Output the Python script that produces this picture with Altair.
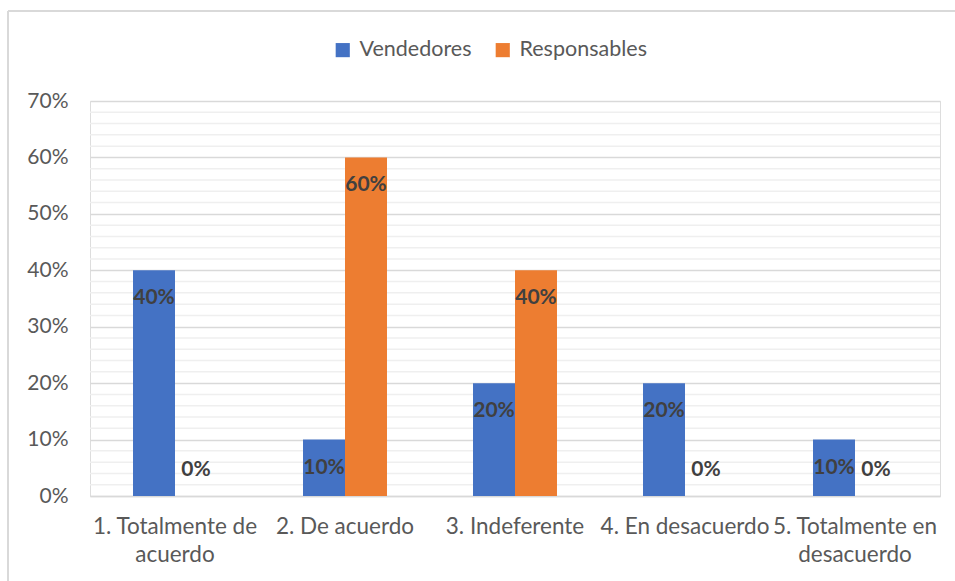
import altair as alt
import pandas as pd

categories = ["1. Totalmente de acuerdo", "2. De acuerdo", "3. Indeferente",
              "4. En desacuerdo", "5. Totalmente en desacuerdo"]
category_lines = [["1. Totalmente de", "acuerdo"], ["2. De acuerdo"], ["3. Indeferente"],
                  ["4. En desacuerdo"], ["5. Totalmente en", "desacuerdo"]]
series = ["Vendedores", "Responsables"]
vendedores = [0.40, 0.10, 0.20, 0.20, 0.10]
responsables = [0.00, 0.60, 0.40, 0.00, 0.00]
colors = ["#4472C4", "#ED7D31"]
y_ticks = [0, 0.1, 0.2, 0.3, 0.4, 0.5, 0.6, 0.7]
minor_ticks = [0.02, 0.04, 0.06, 0.08, 0.12, 0.14, 0.16, 0.18, 0.22, 0.24, 0.26, 0.28,
               0.32, 0.34, 0.36, 0.38, 0.42, 0.44, 0.46, 0.48, 0.52, 0.54, 0.56, 0.58,
               0.62, 0.64, 0.66, 0.68]

rows = []
for c, v, r in zip(categories, vendedores, responsables):
    rows.append({"cat": c, "serie": "Vendedores", "value": v})
    rows.append({"cat": c, "serie": "Responsables", "value": r})
df = pd.DataFrame(rows)
minor_df = pd.DataFrame({"v": minor_ticks})

FONT = "Lato"
W, H = 850, 395

label_map = "{" + ", ".join(
    "'%s': [%s]" % (c, ", ".join("'%s'" % l for l in lines))
    for c, lines in zip(categories, category_lines)) + "}"

xscale = alt.Scale(domain=categories, paddingInner=0.506, paddingOuter=0.253)
yscale = alt.Scale(domain=[0, 0.7], nice=False)

x_enc = alt.X("cat:N", scale=xscale, sort=categories, title=None,
              axis=alt.Axis(labelAngle=0, labelFontSize=22.5, labelColor="#595959",
                            labelFont=FONT, ticks=False, grid=False, domainColor="#d9d9d9",
                            domainWidth=1.5, labelPadding=19, labelLineHeight=28,
                            labelExpr=label_map + "[datum.label]"))
xoff = alt.XOffset("serie:N", sort=series, scale=alt.Scale(domain=series, paddingInner=0))

minor = alt.Chart(minor_df).mark_rule(color="#efefef", strokeWidth=1.5).encode(
    y=alt.Y("v:Q", scale=yscale), x=alt.value(0), x2=alt.value(W))

bars = alt.Chart(df).mark_bar().encode(
    x=x_enc,
    xOffset=xoff,
    y=alt.Y("value:Q", scale=yscale, title=None,
            axis=alt.Axis(values=y_ticks, format=".0%", labelFontSize=21,
                          labelColor="#595959", labelFont=FONT, ticks=False,
                          domain=False, gridColor="#d9d9d9", gridWidth=1.5,
                          labelPadding=22)),
    color=alt.Color("serie:N", sort=series,
                    scale=alt.Scale(domain=series, range=colors),
                    legend=alt.Legend(title=None, orient="none", direction="horizontal",
                                      legendX=242, legendY=-62, symbolType="square",
                                      symbolSize=200, symbolStrokeWidth=0,
                                      labelFontSize=21.5, labelColor="#595959",
                                      labelFont=FONT, columnPadding=20, labelOffset=6)),
)

text_style = dict(font=FONT, fontSize=21, fontWeight="bold", color="#404040",
                  baseline="middle", align="center")
labels_pos = alt.Chart(df).transform_filter("datum.value > 0").mark_text(
    dy=28, **text_style).encode(
    x=alt.X("cat:N", scale=xscale, sort=categories), xOffset=xoff,
    y=alt.Y("value:Q", scale=yscale), text=alt.Text("value:Q", format=".0%"))
labels_zero = alt.Chart(df).transform_filter("datum.value == 0").mark_text(
    dy=-26, **text_style).encode(
    x=alt.X("cat:N", scale=xscale, sort=categories), xOffset=xoff,
    y=alt.Y("value:Q", scale=yscale), text=alt.Text("value:Q", format=".0%"))

frame_src = alt.Chart(pd.DataFrame({"a": [0]}))
frame_left = frame_src.mark_rule(color="#d9d9d9", strokeWidth=2).encode(
    x=alt.value(-82), y=alt.value(-90), y2=alt.value(H + 120))
frame_top = frame_src.mark_rule(color="#d9d9d9", strokeWidth=2).encode(
    x=alt.value(-82), x2=alt.value(W + 40), y=alt.value(-90))

chart = alt.layer(frame_left, frame_top, minor, bars, labels_pos, labels_zero).properties(
    width=W, height=H,
    autosize=alt.AutoSizeParams(type="none"),
    padding={"left": 90, "top": 101, "right": 15, "bottom": 85},
).configure_view(stroke=None, strokeWidth=0).configure_axisX(grid=False).configure(
    background="white")

chart.save("out.html", embed_options={"renderer": "svg", "actions": False})
